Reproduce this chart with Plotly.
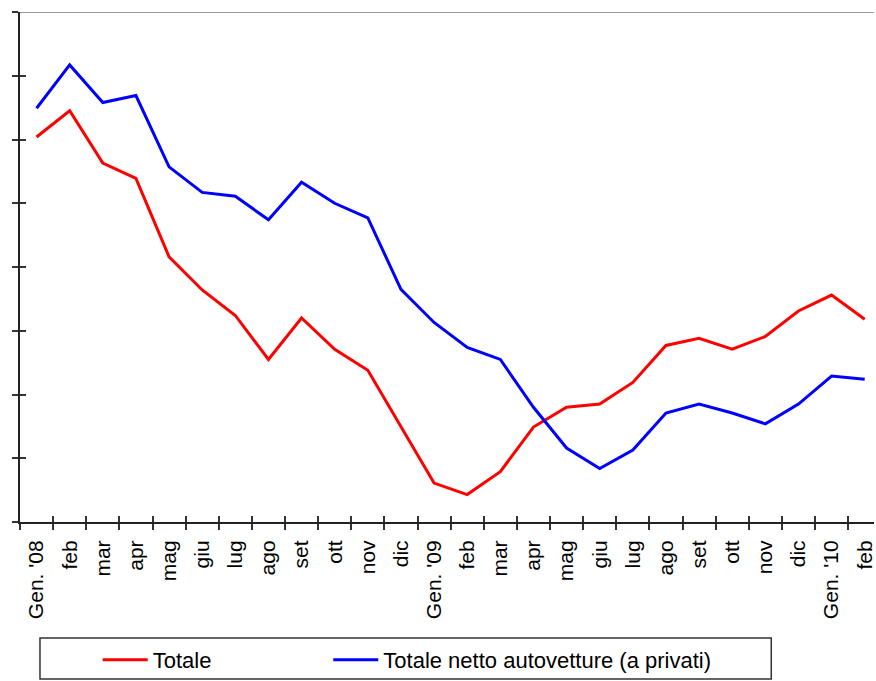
import plotly.graph_objects as go

# Monthly index, January 2008 - February 2010
months = ["Gen. '08", "feb", "mar", "apr", "mag", "giu", "lug", "ago", "set", "ott",
          "nov", "dic", "Gen. '09", "feb", "mar", "apr", "mag", "giu", "lug", "ago",
          "set", "ott", "nov", "dic", "Gen. '10", "feb"]

totale = [6.04, 6.45, 5.63, 5.39, 4.16, 3.64, 3.24, 2.55, 3.20, 2.71,
          2.38, 1.49, 0.61, 0.43, 0.79, 1.49, 1.80, 1.85, 2.19, 2.77,
          2.88, 2.71, 2.91, 3.31, 3.56, 3.18]

netto_auto = [6.49, 7.17, 6.58, 6.69, 5.57, 5.17, 5.11, 4.74, 5.33, 5.00,
              4.77, 3.65, 3.13, 2.74, 2.55, 1.80, 1.16, 0.84, 1.13, 1.71,
              1.85, 1.71, 1.54, 1.85, 2.29, 2.24]

y_ticks = [0, 1, 2, 3, 4, 5, 6, 7, 8]

idx = list(range(len(months)))
bounds = [i - 0.5 for i in range(len(months) + 1)]
x_range = [-0.5, 25.28]
y_range = [0, 8]

FONT = "Liberation Sans, Arial, sans-serif"
legend_style = dict(orientation="h", xanchor="left", y=-0.2706, yanchor="middle",
                    font=dict(size=22, family=FONT, color="black"),
                    itemwidth=45, bgcolor="rgba(0,0,0,0)", borderwidth=0)

fig = go.Figure()
fig.add_trace(go.Scatter(x=idx, y=totale, mode="lines", name="Totale",
                         line=dict(color="#ff0000", width=3), legend="legend"))
fig.add_trace(go.Scatter(x=idx, y=netto_auto, mode="lines",
                         name="Totale netto autovetture (a privati)",
                         line=dict(color="#0000ff", width=3), legend="legend2"))
# carrier for the overlay axes that draw the inner half of the tick marks
fig.add_trace(go.Scatter(x=[None], y=[None], xaxis="x2", yaxis="y2",
                         showlegend=False, hoverinfo="skip"))

fig.update_layout(
    width=876, height=681,
    margin=dict(l=20, r=0, t=12, b=159),
    paper_bgcolor="white", plot_bgcolor="white",
    font=dict(family=FONT, color="black"),
    showlegend=True,
    legend=dict(x=0.091, **legend_style),
    legend2=dict(x=0.361, **legend_style),
    xaxis=dict(range=x_range, tickmode="array", tickvals=idx, ticktext=months,
               tickangle=-90, tickfont=dict(size=21, family=FONT, color="black"),
               ticks="outside", ticklen=6, tickcolor="rgba(0,0,0,0)",
               ticklabelstandoff=2, ticklabeloverflow="allow",
               minor=dict(tickmode="array", tickvals=bounds, ticks="outside",
                          ticklen=6, tickwidth=1.5, tickcolor="#333333", showgrid=False),
               showline=True, linecolor="#222222", linewidth=2,
               showgrid=False, zeroline=False, fixedrange=True),
    yaxis=dict(range=y_range, tickmode="array", tickvals=y_ticks, showticklabels=False,
               ticks="outside", ticklen=6, tickwidth=1.5, tickcolor="#333333",
               showline=True, linecolor="#222222", linewidth=2,
               showgrid=False, zeroline=False, fixedrange=True),
    xaxis2=dict(overlaying="x", anchor="y2", range=x_range, tickmode="array",
                tickvals=bounds, showticklabels=False, ticks="inside", ticklen=6,
                tickwidth=1.5, tickcolor="#333333", showline=False, showgrid=False,
                zeroline=False, fixedrange=True),
    yaxis2=dict(overlaying="y", anchor="x2", range=y_range, tickmode="array",
                tickvals=y_ticks, showticklabels=False, ticks="inside", ticklen=6,
                tickwidth=1.5, tickcolor="#333333", showline=False, showgrid=False,
                zeroline=False, fixedrange=True),
    shapes=[
        # grey top border of the plotting area
        dict(type="line", xref="paper", yref="y", x0=0, x1=1, y0=8, y1=8,
             line=dict(color="#999999", width=2), layer="below"),
        # frame around the legend
        dict(type="rect", xref="paper", yref="paper", x0=0.0234, x1=0.8797,
             y0=-0.3078, y1=-0.2275, line=dict(color="#333333", width=1.5),
             fillcolor="rgba(0,0,0,0)"),
    ],
)

fig.write_html("out.html")
